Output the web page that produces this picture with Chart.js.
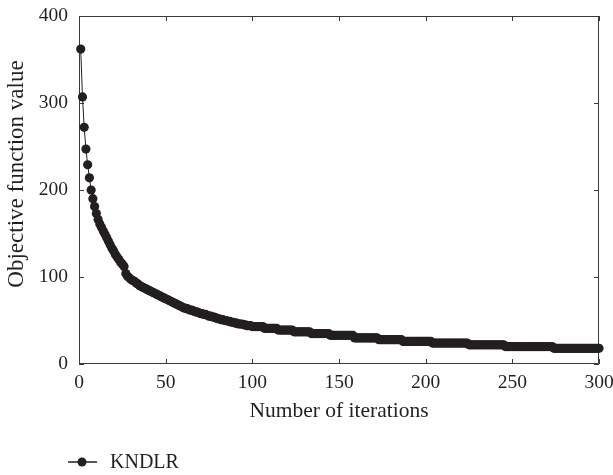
<!DOCTYPE html>
<html>
<head>
<meta charset="utf-8">
<script src="https://cdn.jsdelivr.net/npm/chart.js@4.4.0/dist/chart.umd.min.js"></script>
<style>
  html, body { margin: 0; padding: 0; background: #ffffff; }
  #wrap { width: 613px; height: 475px; }
</style>
</head>
<body>
<div id="wrap"><canvas id="c" width="613" height="475"></canvas></div>
<script>
// Convergence of the KNDLR objective over 300 iterations
const seriesName = 'KNDLR';
const xTitle = 'Number of iterations';
const yTitle = 'Objective function value';
const xTicks = [0, 50, 100, 150, 200, 250, 300];
const yTicks = [0, 100, 200, 300, 400];

const objective = [
  362, 307, 272, 247, 229, 214, 200, 190, 181, 173,
  166, 161, 157, 153, 149, 145, 141, 137, 133, 130,
  126, 123, 120, 117, 115, 112, 104, 101, 99, 97,
  96, 95, 93, 92, 90, 89, 88, 87, 86, 85,
  84, 83, 82, 81, 80, 79, 78, 77, 76, 75,
  74, 73, 72, 71, 70, 69, 68, 67, 66, 65,
  64, 64, 63, 62, 62, 61, 60, 60, 59, 58,
  58, 57, 57, 56, 55, 55, 54, 54, 53, 52,
  52, 51, 51, 50, 50, 49, 49, 48, 48, 47,
  47, 46, 46, 46, 45, 45, 44, 44, 44, 43,
  43, 43, 43, 43, 43, 43, 41, 41, 41, 41,
  41, 41, 41, 41, 39, 39, 39, 39, 39, 39,
  39, 39, 39, 37, 37, 37, 37, 37, 37, 37,
  37, 37, 37, 35, 35, 35, 35, 35, 35, 35,
  35, 35, 35, 35, 33, 33, 33, 33, 33, 33,
  33, 33, 33, 33, 33, 33, 33, 33, 30, 30,
  30, 30, 30, 30, 30, 30, 30, 30, 30, 30,
  30, 30, 28, 28, 28, 28, 28, 28, 28, 28,
  28, 28, 28, 28, 28, 28, 26, 26, 26, 26,
  26, 26, 26, 26, 26, 26, 26, 26, 26, 26,
  26, 26, 26, 24, 24, 24, 24, 24, 24, 24,
  24, 24, 24, 24, 24, 24, 24, 24, 24, 24,
  24, 24, 24, 24, 22, 22, 22, 22, 22, 22,
  22, 22, 22, 22, 22, 22, 22, 22, 22, 22,
  22, 22, 22, 22, 22, 20, 20, 20, 20, 20,
  20, 20, 20, 20, 20, 20, 20, 20, 20, 20,
  20, 20, 20, 20, 20, 20, 20, 20, 20, 20,
  20, 20, 20, 18, 18, 18, 18, 18, 18, 18,
  18, 18, 18, 18, 18, 18, 18, 18, 18, 18,
  18, 18, 18, 18, 18, 18, 18, 18, 18, 18
];

// iteration numbers start at 1
const iterations = objective.map((_, i) => i + 1);

const INK = '#231f20';
const FRAME = '#3a3a3a';
const SERIF = '"Liberation Serif", "DejaVu Serif", serif';

// Closed box around the plot with inward ticks on all four sides
const boxFrame = {
  id: 'boxFrame',
  beforeDatasetsDraw(chart) {
    const { ctx, chartArea: a, scales } = chart;
    const len = 5;
    ctx.save();
    ctx.strokeStyle = FRAME;
    ctx.lineWidth = 1;
    ctx.beginPath();
    ctx.rect(a.left + 0.5, a.top + 0.5, a.right - a.left - 1, a.bottom - a.top - 1);
    ctx.stroke();
    ctx.beginPath();
    xTicks.forEach(v => {
      const px = Math.round(scales.x.getPixelForValue(v)) + 0.5;
      ctx.moveTo(px, a.bottom); ctx.lineTo(px, a.bottom - len);
      ctx.moveTo(px, a.top); ctx.lineTo(px, a.top + len);
    });
    yTicks.forEach(v => {
      const py = Math.round(scales.y.getPixelForValue(v)) + 0.5;
      ctx.moveTo(a.left, py); ctx.lineTo(a.left + len, py);
      ctx.moveTo(a.right, py); ctx.lineTo(a.right - len, py);
    });
    ctx.stroke();
    ctx.restore();
  }
};

// Vertical axis title and the legend entry below the x-axis title
const annotations = {
  id: 'annotations',
  afterDraw(chart) {
    const { ctx, chartArea: a } = chart;
    const ds = chart.data.datasets[0];
    ctx.save();
    // y-axis title, rotated
    ctx.fillStyle = INK;
    ctx.font = '23px ' + SERIF;
    ctx.textAlign = 'center';
    ctx.textBaseline = 'middle';
    ctx.translate(a.left - 62, a.top + 158);
    ctx.rotate(-Math.PI / 2);
    ctx.fillText(yTitle, 0, 0);
    ctx.restore();

    ctx.save();
    const y = 462;
    const x0 = a.left - 11;
    ctx.strokeStyle = ds.borderColor;
    ctx.lineWidth = 1.5;
    ctx.beginPath();
    ctx.moveTo(x0, y); ctx.lineTo(x0 + 29, y);
    ctx.stroke();
    ctx.fillStyle = ds.pointBackgroundColor;
    ctx.beginPath();
    ctx.arc(x0 + 14, y, 4.5, 0, Math.PI * 2);
    ctx.fill();
    ctx.fillStyle = INK;
    ctx.font = '20px ' + SERIF;
    ctx.textBaseline = 'middle';
    ctx.textAlign = 'left';
    ctx.fillText(ds.label, x0 + 42, y + 1);
    ctx.restore();
  }
};

new Chart(document.getElementById('c'), {
  type: 'line',
  data: {
    datasets: [{
      label: seriesName,
      data: iterations.map((it, i) => ({ x: it, y: objective[i] })),
      borderColor: INK,
      backgroundColor: INK,
      pointBackgroundColor: INK,
      pointBorderColor: INK,
      borderWidth: 1,
      pointRadius: 4.6,
      pointBorderWidth: 0,
      tension: 0,
      clip: false
    }]
  },
  options: {
    responsive: false,
    devicePixelRatio: 1,
    animation: false,
    events: [],
    layout: { padding: { left: 0, right: 14, top: 16, bottom: 49 } },
    plugins: { legend: { display: false }, tooltip: { enabled: false } },
    scales: {
      x: {
        type: 'linear',
        min: 0, max: 300,
        afterBuildTicks: s => { s.ticks = xTicks.map(v => ({ value: v })); },
        afterFit: s => { s.height = 62; s.paddingLeft = 0; s.paddingRight = 0; },
        grid: { display: false, drawTicks: false },
        border: { display: false },
        ticks: { color: INK, font: { family: SERIF, size: 19.5 }, padding: 7, maxRotation: 0 },
        title: { display: true, text: xTitle, color: INK, font: { family: SERIF, size: 21.5 }, padding: { top: 0, bottom: 2 } }
      },
      y: {
        type: 'linear',
        min: 0, max: 400,
        afterBuildTicks: s => { s.ticks = yTicks.map(v => ({ value: v })); },
        afterFit: s => { s.width = 79; s.paddingTop = 0; s.paddingBottom = 0; },
        grid: { display: false, drawTicks: false },
        border: { display: false },
        ticks: { color: INK, font: { family: SERIF, size: 19.5 }, padding: 11 },
        title: { display: false }
      }
    }
  },
  plugins: [boxFrame, annotations]
});
</script>
</body>
</html>
